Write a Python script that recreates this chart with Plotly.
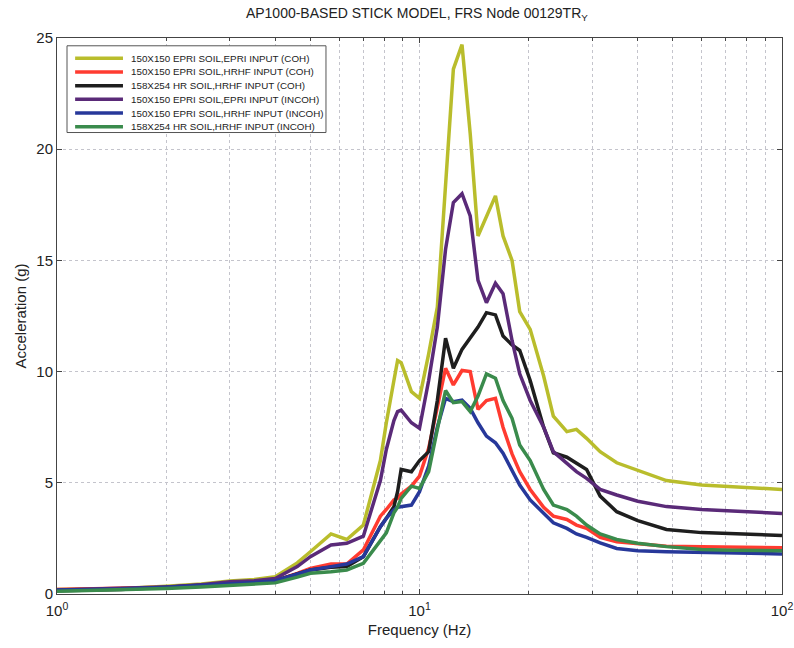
import plotly.graph_objects as go

# Frequency grid (Hz)
freq = [1.0, 1.5, 2.0, 2.5, 3.0, 3.5, 4.0, 4.6, 5.0, 5.7, 6.3, 7.0, 7.8, 8.1, 8.5, 8.7, 8.9,
        9.5, 10.0, 10.6, 11.2, 11.8, 12.4, 13.1, 13.8, 14.5, 15.3, 16.2, 17.0, 18.0, 18.9,
        20.2, 22.0, 23.4, 25.5, 27.1, 28.9, 31.5, 35.0, 40.0, 48.0, 60.0, 73.0, 100.0]

# Spectral accelerations (g) for each case
epri_epri_coh = [0.20, 0.25, 0.35, 0.45, 0.58, 0.65, 0.78, 1.40, 1.90, 2.70, 2.45, 3.10, 6.00, 7.70, 9.60,
                 10.50, 10.40, 9.10, 8.80, 10.80, 12.90, 18.50, 23.60, 24.70, 20.70, 16.10, 17.00,
                 17.90, 16.10, 15.00, 12.70, 11.90, 9.80, 8.00, 7.30, 7.40, 7.00, 6.40, 5.90, 5.55,
                 5.10, 4.90, 4.82, 4.70]
epri_hrhf_coh = [0.20, 0.25, 0.30, 0.38, 0.45, 0.52, 0.60, 0.93, 1.15, 1.35, 1.35, 1.98, 3.50, 3.80, 4.23,
                 4.30, 4.50, 4.85, 5.30, 6.55, 8.40, 10.15, 9.40, 10.05, 10.00, 8.30, 8.70, 8.80,
                 7.50, 6.30, 5.50, 4.70, 3.90, 3.50, 3.35, 3.10, 2.95, 2.55, 2.35, 2.25, 2.15,
                 2.12, 2.10, 2.08]
hr_hrhf_coh = [0.15, 0.20, 0.30, 0.40, 0.48, 0.55, 0.60, 0.90, 1.08, 1.20, 1.23, 1.68, 3.03, 3.40, 3.93,
               4.60, 5.60, 5.50, 6.00, 6.40, 8.70, 11.50, 10.15, 11.00, 11.50, 12.00, 12.65, 12.55,
               11.60, 11.20, 10.95, 9.60, 7.50, 6.35, 6.15, 5.90, 5.60, 4.40, 3.70, 3.30, 2.90,
               2.76, 2.70, 2.63]
epri_epri_incoh = [0.18, 0.24, 0.32, 0.42, 0.55, 0.60, 0.70, 1.23, 1.68, 2.20, 2.28, 2.60, 5.10, 6.50,
                   7.80, 8.20, 8.27, 7.70, 7.45, 9.60, 12.00, 15.50, 17.60, 18.00, 17.00, 14.10,
                   13.10, 13.97, 13.50, 11.40, 9.90, 8.70, 7.50, 6.40, 5.85, 5.50, 5.20, 4.70, 4.45,
                   4.17, 3.93, 3.80, 3.73, 3.62]
epri_hrhf_incoh = [0.18, 0.22, 0.30, 0.38, 0.45, 0.52, 0.60, 0.90, 1.08, 1.23, 1.35, 1.68, 3.03, 3.40,
                   3.78, 3.90, 3.93, 4.00, 4.60, 5.75, 7.50, 8.80, 8.65, 8.72, 8.35, 7.70, 7.10,
                   6.80, 6.33, 5.60, 4.90, 4.23, 3.60, 3.20, 2.95, 2.70, 2.55, 2.30, 2.05, 1.95,
                   1.90, 1.86, 1.83, 1.80]
hr_hrhf_incoh = [0.12, 0.18, 0.25, 0.32, 0.38, 0.43, 0.50, 0.76, 0.93, 1.00, 1.08, 1.38, 2.43, 2.75, 3.65,
                 3.90, 4.30, 4.85, 4.75, 5.50, 7.40, 9.15, 8.60, 8.65, 8.20, 8.90, 9.90, 9.70, 8.70,
                 7.90, 6.70, 6.00, 4.70, 4.00, 3.80, 3.50, 3.10, 2.70, 2.45, 2.28, 2.13, 2.00,
                 1.97, 1.95]

series_names = [
    "150X150 EPRI SOIL,EPRI INPUT (COH)",
    "150X150 EPRI SOIL,HRHF INPUT (COH)",
    "158X254 HR SOIL,HRHF INPUT (COH)",
    "150X150 EPRI SOIL,EPRI INPUT (INCOH)",
    "150X150 EPRI SOIL,HRHF INPUT (INCOH)",
    "158X254 HR SOIL,HRHF INPUT (INCOH)",
]
series_values = [epri_epri_coh, epri_hrhf_coh, hr_hrhf_coh,
                 epri_epri_incoh, epri_hrhf_incoh, hr_hrhf_incoh]
series_colors = ["#b9bd2c", "#ff3b30", "#1e1e1e", "#5a2a78", "#27389a", "#3a8b4c"]

x_tick_vals = [1, 10, 100]
x_tick_text = ["10<sup>0</sup>", "10<sup>1</sup>", "10<sup>2</sup>"]
y_tick_vals = [0, 5, 10, 15, 20, 25]

minor_x = [m * d for d in (1, 10) for m in range(2, 10)]

fig = go.Figure()
for name, vals, col in zip(series_names, series_values, series_colors):
    fig.add_trace(go.Scatter(x=freq, y=vals, mode="lines", name=name,
                             line=dict(color=col, width=3.5), showlegend=False))

# Compact boxed legend in the upper-left corner (paper coordinates)
leg_x0, leg_x1 = 0.0138, 0.371
leg_y0, leg_y1 = 0.830, 0.986
row_top, row_step = 0.9635, 0.0246
line_x0, line_x1, text_x = 0.0250, 0.0910, 0.0990
shapes = [dict(type="rect", xref="paper", yref="paper", x0=leg_x0, x1=leg_x1,
               y0=leg_y0, y1=leg_y1, line=dict(color="#555", width=1),
               fillcolor="white", layer="above")]
annotations = []
for i, (name, col) in enumerate(zip(series_names, series_colors)):
    yy = row_top - i * row_step
    shapes.append(dict(type="line", xref="paper", yref="paper", x0=line_x0, x1=line_x1,
                       y0=yy, y1=yy, line=dict(color=col, width=3.5), layer="above"))
    annotations.append(dict(xref="paper", yref="paper", x=text_x, y=yy, text=name,
                            showarrow=False, xanchor="left", yanchor="middle",
                            font=dict(size=9.8, color="#222")))

grid_col = "#c4c4cc"
fig.update_layout(
    width=794, height=648,
    margin=dict(l=57, r=12, t=38, b=54),
    paper_bgcolor="white", plot_bgcolor="white",
    font=dict(family="Liberation Sans, Arial, sans-serif", color="#222"),
    title=dict(text="AP1000-BASED STICK MODEL, FRS Node 00129TR<sub>Y</sub>",
               x=0.525, xanchor="center", y=0.988, yanchor="top",
               font=dict(size=14, color="#222")),
    showlegend=False,
    shapes=shapes,
    annotations=annotations,
)
fig.update_xaxes(
    type="log", range=[0, 2], automargin=False,
    tickvals=x_tick_vals, ticktext=x_tick_text,
    tickfont=dict(size=15), ticks="inside", ticklen=5, tickcolor="#444",
    ticklabelstandoff=3,
    showline=True, linecolor="#444", linewidth=1, mirror="ticks",
    showgrid=True, gridcolor=grid_col, griddash="dot", gridwidth=1,
    minor=dict(tickvals=minor_x, ticks="inside", ticklen=3, tickcolor="#444",
               showgrid=True, gridcolor=grid_col, griddash="dot", gridwidth=1),
    title=dict(text="Frequency (Hz)", font=dict(size=15), standoff=6),
    zeroline=False,
)
fig.update_yaxes(
    range=[0, 25], tickvals=y_tick_vals, automargin=False,
    tickfont=dict(size=15), ticks="inside", ticklen=5, tickcolor="#444",
    showline=True, linecolor="#444", linewidth=1, mirror="ticks",
    showgrid=True, gridcolor=grid_col, griddash="dot", gridwidth=1,
    title=dict(text="Acceleration (g)", font=dict(size=15), standoff=6),
    zeroline=False,
)

fig.write_html("out.html")
